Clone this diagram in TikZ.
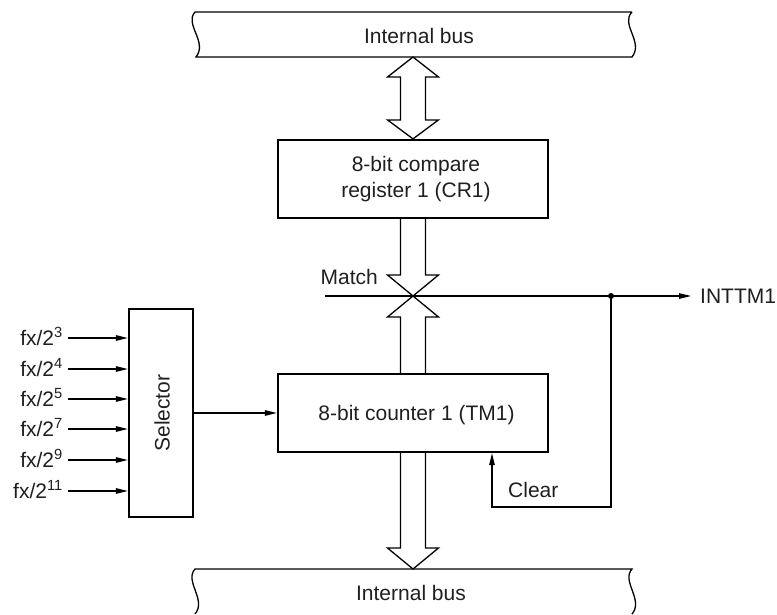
\documentclass[tikz,border=0pt]{standalone}
\usepackage{fontspec}
\setmainfont{Liberation Sans}
\usetikzlibrary{arrows.meta,calc}

\tikzset{
  thin line/.style={line width=1.2pt, draw=black},
  blockbox/.style={draw=black, line width=2.2pt, minimum width=270pt, minimum height=78pt,
                   inner sep=0pt, align=center},
  selbox/.style={draw=black, line width=2.2pt, minimum width=64pt, minimum height=208pt, inner sep=0pt},
  label/.style={inner sep=0pt, text=black!88},
  sig/.style={thin line, -{Triangle[length=12pt,width=5.5pt]}},
  fat/.style={line width=1.3pt, draw=black, line join=miter},
  busedge/.style={line width=1.3pt, draw=black},
}

\begin{document}
\begin{tikzpicture}[x=1pt, y=-1pt, font=\fontsize{21}{26.5}\selectfont]
\useasboundingbox (0,0) rectangle (777,614);

% ---------- internal buses ----------
% upper bus
\draw[busedge] (632,12) -- (195,12)
  .. controls (184,24) and (208,42) .. (196,57) -- (632,57)
  .. controls (644,42) and (620,24) .. (632,12);
\node[label, anchor=base] (busT) at (419,43) {Internal bus};
\coordinate (tb) at (413,57);
% lower bus (runs past the bottom edge)
\draw[busedge] (195,614) .. controls (207,600) and (184,581) .. (195,569) -- (632,569)
  .. controls (621,581) and (644,600) .. (632,614);
\node[label, anchor=base] (busB) at (411,600) {Internal bus};
\coordinate (bb) at (413,569);

% ---------- blocks ----------
\node[blockbox] (reg) at (413,179) {};
\node[label, align=center] (regtxt) at (416,179) {8-bit compare\\register 1 (CR1)};
\node[blockbox] (cnt) at (413,413) {};
\node[label, anchor=base] (cnttxt) at (416.5,420) {8-bit counter 1 (TM1)};
\node[selbox] (sel) at (161,413) {};
\node[label, rotate=90] (seltxt) at (162,413) {Selector};

% ---------- fat bus arrows ----------
% bidirectional: upper bus <-> compare register
\draw[fat] (tb) -- ($(tb)+(-25.5,20)$) -- ($(tb)+(-12.5,20)$)
  -- ($(reg.north)+(-12.5,-19)$) -- ($(reg.north)+(-25.5,-19)$) -- (reg.north)
  -- ($(reg.north)+(25.5,-19)$) -- ($(reg.north)+(12.5,-19)$)
  -- ($(tb)+(12.5,20)$) -- ($(tb)+(25.5,20)$) -- cycle;

% compare register -> match point, counter -> match point
\coordinate (mx) at (413,296);
\draw[fat] ($(reg.south)+(-12.5,0)$) -- ($(mx)+(-12.5,-21)$) -- ($(mx)+(-25.5,-21)$) -- (mx)
  -- ($(mx)+(25.5,-21)$) -- ($(mx)+(12.5,-21)$) -- ($(reg.south)+(12.5,0)$);
\draw[fat] ($(cnt.north)+(-12.5,0)$) -- ($(mx)+(-12.5,21)$) -- ($(mx)+(-25.5,21)$) -- (mx)
  -- ($(mx)+(25.5,21)$) -- ($(mx)+(12.5,21)$) -- ($(cnt.north)+(12.5,0)$);

% counter -> lower bus
\draw[fat] ($(cnt.south)+(-12.5,0)$) -- ($(bb)+(-12.5,-21)$) -- ($(bb)+(-25.5,-21)$) -- (bb)
  -- ($(bb)+(25.5,-21)$) -- ($(bb)+(12.5,-21)$) -- ($(cnt.south)+(12.5,0)$);

% ---------- match / interrupt / clear ----------
\coordinate (mstart) at (325,296);
\coordinate (jn) at (611,296);
\coordinate (irq) at (691,296);
\node[label, anchor=base east] (matchlbl) at (378,284) {Match};
\draw[thin line] (mstart) -- (jn);
\draw[sig] (jn) -- (irq);
\fill (jn) circle (3pt);
\node[label, anchor=base west] (inttm) at (700,303) {INTTM1};

\coordinate (clrc) at (611,507);
\coordinate (clrb) at (492,507);
\draw[sig] (jn) -- (clrc) -- (clrb) -- (clrb |- cnt.south);
\node[label, anchor=base west] (clrlbl) at (508,497) {Clear};

% ---------- selector ----------
\draw[sig] (sel.east |- cnt.west) -- (cnt.west);

\foreach \yy/\ex [count=\i] in {338/3, 369/4, 399/5, 429/7, 460/9, 491/11} {
  \coordinate (in\i) at (68,\yy);
  \node[label, anchor=base east] (f\i) at (63,\yy+7) {fx/2\textsuperscript{\ex}};
  \draw[sig] (in\i) -- (sel.west |- in\i);
}
\end{tikzpicture}
\end{document}
